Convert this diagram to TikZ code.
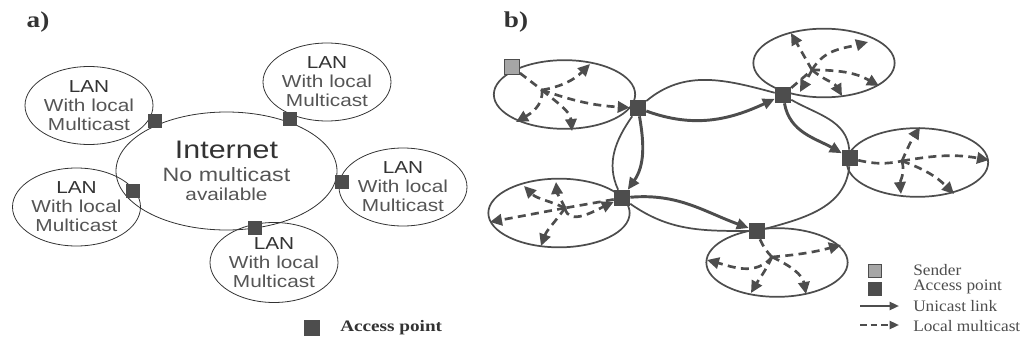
\documentclass[tikz,border=0pt]{standalone}
\usepackage{fontspec}
\usepackage{xcolor}
\usepackage{tikz}
\usetikzlibrary{shapes.geometric,arrows.meta}
\newfontfamily\lanfont[FakeStretch=1.2]{Liberation Sans}
\newfontfamily\capfont[FakeStretch=1.2]{Liberation Serif}
\newfontfamily\keyfont[FakeStretch=1.08]{Liberation Serif}
\definecolor{dark}{HTML}{4D4D4D}
\definecolor{sendgray}{HTML}{A6A6A6}
\definecolor{txtgray}{HTML}{555555}
\definecolor{lantxt}{HTML}{333333}

\begin{document}
\begin{tikzpicture}[x=0.75pt,y=0.75pt,
    lan/.style={draw=lantxt,line width=0.6pt,ellipse,inner sep=0pt,align=center,text=txtgray,
        font=\lanfont\fontsize{13}{14.25}\selectfont,minimum width=96pt,minimum height=58.5pt},
    ap/.style={fill=dark,inner sep=0pt,minimum size=10.5pt},
    zone/.style={draw=dark,line width=1.3pt,ellipse,inner sep=0pt,minimum width=106pt,minimum height=51.5pt},
    apb/.style={fill=dark,inner sep=0pt,minimum size=12pt},
    link/.style={draw=dark,line width=1.3pt},
    uni/.style={draw=dark,line width=2.2pt,-{Triangle[length=9pt,width=8pt]}},
    mc/.style={draw=dark,line width=2pt,dash pattern=on 6pt off 4pt},
    mca/.style={mc,-{Triangle[length=9pt,width=8.5pt]}},
    key/.style={anchor=west,inner sep=0pt,text=dark,font=\keyfont\fontsize{12}{12}\selectfont}]
    \useasboundingbox (0,0) rectangle (1026,-343);

    \node[font=\capfont\bfseries\fontsize{17}{18}\selectfont,text=lantxt] (ta) at (38,-22) {a)};
    \node[font=\capfont\bfseries\fontsize{17}{18}\selectfont,text=lantxt] (tb) at (516,-22) {b)};

    \node[lan,minimum width=165.75pt,minimum height=88.5pt] (i) at (226.5,-171)
        {\textcolor{lantxt}{\fontsize{19}{18}\selectfont Internet}\\[3pt]\fontsize{14.5}{15.75}\selectfont No multicast\\available};
    \node[lan] (l1) at (89,-105.5) {\textcolor{lantxt}{LAN}\\With local\\Multicast};
    \node[lan] (l2) at (327,-82) {\textcolor{lantxt}{LAN}\\With local\\Multicast};
    \node[lan] (l3) at (403,-187) {\textcolor{lantxt}{LAN}\\With local\\Multicast};
    \node[lan] (l4) at (76.5,-207) {\textcolor{lantxt}{LAN}\\With local\\Multicast};
    \node[lan,minimum height=60pt] (l5) at (274,-262.5) {\textcolor{lantxt}{LAN}\\With local\\Multicast};
    \node[ap] (a1) at (155,-121) {};
    \node[ap] (a2) at (290,-119) {};
    \node[ap] (a3) at (342,-182) {};
    \node[ap] (a4) at (133,-191) {};
    \node[ap] (a5) at (255,-228) {};
    \node[ap,minimum size=12pt] (k) at (312,-328) {};
    \node[key,font=\capfont\bfseries\fontsize{12}{13}\selectfont,text=lantxt] (kt) at (340,-328) {Access point};

    \node[zone] (n1) at (564.5,-94.5) {};
    \node[zone] (n2) at (824,-63) {};
    \node[zone] (n3) at (917.5,-162.5) {};
    \node[zone] (n4) at (559,-213) {};
    \node[zone] (n5) at (777,-262.5) {};

    \coordinate (h1) at (542,-90);
    \coordinate (h2) at (812,-70);
    \coordinate (h3) at (902,-161);
    \coordinate (h4) at (565,-208);
    \coordinate (h5) at (772,-257);

    \coordinate (e11) at (590,-64);
    \coordinate (e12) at (572,-131);
    \coordinate (e13) at (516,-122);
    \coordinate (e21) at (791,-33);
    \coordinate (e22) at (868,-42);
    \coordinate (e23) at (879,-86);
    \coordinate (e24) at (842,-96);
    \coordinate (e25) at (800,-92);
    \coordinate (e31) at (920,-127);
    \coordinate (e32) at (989,-160);
    \coordinate (e33) at (901,-194);
    \coordinate (e34) at (954,-194);
    \coordinate (e41) at (524,-186);
    \coordinate (e42) at (556,-182);
    \coordinate (e43) at (490,-222);
    \coordinate (e44) at (541,-246);
    \coordinate (e51) at (841,-245);
    \coordinate (e52) at (707,-260);
    \coordinate (e53) at (751,-293);
    \coordinate (e54) at (806,-294);

    \node[apb,fill=sendgray,draw=dark,line width=0.8pt,minimum size=11pt] (s) at (512,-67) {};
    \node[apb] (1) at (638,-108) {};
    \node[apb] (2) at (783,-95) {};
    \node[apb] (3) at (850,-158) {};
    \node[apb] (4) at (622,-198) {};
    \node[apb] (5) at (757,-231) {};

    \draw[link] (1) to [out=40,in=165] (2);
    \draw[uni] (1) to [out=-20,in=205] (2);
    \draw[link] (1) to [out=235,in=115] (4);
    \draw[uni] (1) to [out=-80,in=55] (4);
    \draw[link] (2) to [out=-30,in=95] (3);
    \draw[uni] (2) to [out=-80,in=150] (3);
    \draw[uni] (4) to [out=5,in=160] (5);
    \draw[link] (4) to [out=-35,in=180] (5);
    \draw[link] (3) to [out=-95,in=15] (5);

    \draw[mc] (s) -- (h1);
    \draw[mca] (h1) to [out=10,in=225] (e11);
    \draw[mca] (h1) to [bend right=8] (1);
    \draw[mca] (h1) to [out=-40,in=95] (e12);
    \draw[mca] (h1) to [out=-85,in=30] (e13);

    \draw[mc] (2) -- (h2);
    \draw[mca] (h2) -- (e21);
    \draw[mca] (h2) to [out=60,in=195] (e22);
    \draw[mca] (h2) to [out=0,in=150] (e23);
    \draw[mca] (h2) to [out=-40,in=120] (e24);
    \draw[mca] (h2) -- (e25);

    \draw[mc] (3) to [bend right=12] (h3);
    \draw[mca] (h3) to [bend left=5] (e31);
    \draw[mca] (h3) to [out=10,in=170] (e32);
    \draw[mca] (h3) to [out=-75,in=95] (e33);
    \draw[mca] (h3) to [out=-20,in=135] (e34);

    \draw[mc] (4) -- (h4);
    \draw[mca] (h4) to [out=-80,in=205] (4);
    \draw[mca] (h4) to [out=155,in=-45] (e41);
    \draw[mca] (h4) to [out=115,in=-85] (e42);
    \draw[mca] (h4) -- (e43);
    \draw[mca] (h4) to [out=-125,in=70] (e44);

    \draw[mc] (5) to [bend right=10] (h5);
    \draw[mca] (h5) to [out=5,in=195] (e51);
    \draw[mca] (h5) to [out=-130,in=-15] (e52);
    \draw[mca] (h5) to [out=-115,in=60] (e53);
    \draw[mca] (h5) to [out=-25,in=100] (e54);

    \node[apb,fill=sendgray,draw=dark,line width=0.8pt,minimum size=10pt] (ks) at (875,-271) {};
    \node[apb,minimum size=10pt] (ka) at (875,-289) {};
    \coordinate (ku1) at (860,-306);
    \coordinate (ku2) at (899,-306);
    \coordinate (km1) at (860,-325);
    \coordinate (km2) at (899,-325);
    \draw[uni,line width=1.6pt,-{Triangle[length=7pt,width=6pt]}] (ku1) -- (ku2);
    \draw[mca,line width=1.6pt,dash pattern=on 5pt off 3pt,-{Triangle[length=7pt,width=6pt]}] (km1) -- (km2);
    \node[key] (ks1) at (913,-270) {Sender};
    \node[key] (ka1) at (913,-287) {Access point};
    \node[key] (ku) at (913,-306) {Unicast link};
    \node[key] (km) at (913,-326) {Local multicast};
\end{tikzpicture}
\end{document}
